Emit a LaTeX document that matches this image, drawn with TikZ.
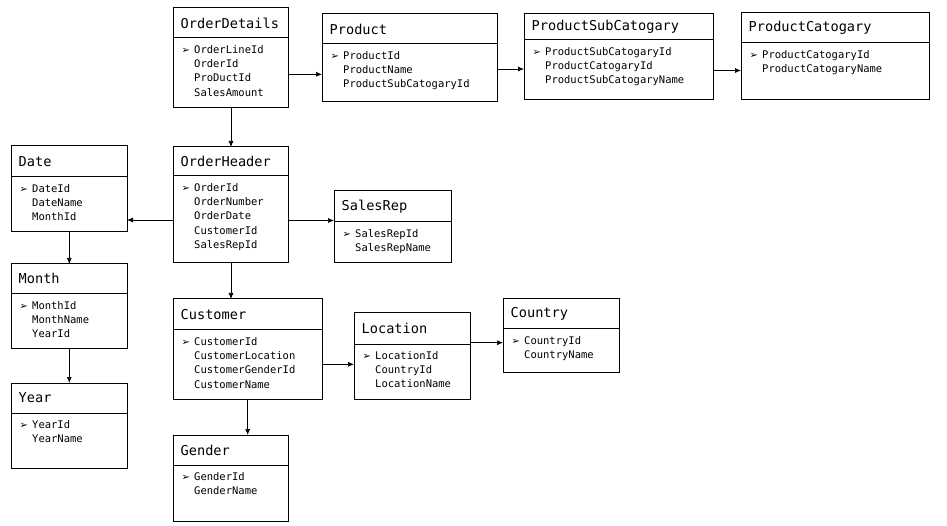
\documentclass[tikz,border=0pt]{standalone}
\usepackage{fontspec}
\setmonofont{DejaVu Sans Mono}
\newfontfamily\symfont{DejaVu Sans}
\usetikzlibrary{arrows.meta}
\tikzset{
  box/.style={draw=black, line width=1pt, inner sep=0pt, outer sep=0pt},
  boxline/.style={draw=black, line width=1pt},
  ttl/.style={inner sep=0pt, font=\ttfamily\fontsize{13.6}{16}\selectfont},
  fld/.style={inner sep=0pt, font=\ttfamily\fontsize{10.5}{13}\selectfont},
  bul/.style={inner sep=0pt, font=\symfont\fontsize{10}{12}\selectfont},
  conn/.style={draw=black, line width=0.7pt, -{Latex[length=6pt,width=5pt]}}
}
\newcommand\ent[8]{%
  \node[box, minimum width={#4-#2}, minimum height={#5-#3}, anchor=north west] (#1) at (#2,#3) {};
  \draw[boxline] (#2,#6) -- (#4,#6);
  \node[ttl, anchor=west] (#1-t) at ({#2+7.5},{(#3+#6)/2}) {#7};
  \node[bul, anchor=base west] (#1-b) at ({#2+8.5},{#6+15.5}) {➢};
  \foreach \f [count=\i from 0] in {#8} {
    \node[fld, anchor=base west] (#1-f\i) at ({#2+21},{#6+15.5+14.2*\i}) {\f};
  }
}
\begin{document}
\begin{tikzpicture}[x=1pt,y=-1pt]
\useasboundingbox (0,0) rectangle (947,526);
\ent{OD}{173}{8}{288}{108}{38}{OrderDetails}{OrderLineId,OrderId,ProDuctId,SalesAmount}
\ent{P}{322}{14}{497}{102}{44}{Product}{ProductId,ProductName,ProductSubCatogaryId}
\ent{PSC}{524}{14}{713}{100}{40}{ProductSubCatogary}{ProductSubCatogaryId,ProductCatogaryId,ProductSubCatogaryName}
\ent{PC}{741}{13}{929}{100}{43}{ProductCatogary}{ProductCatogaryId,ProductCatogaryName}
\ent{D}{11}{146}{127}{232}{177}{Date}{DateId,DateName,MonthId}
\ent{OH}{173}{147}{288}{263}{176}{OrderHeader}{OrderId,OrderNumber,OrderDate,CustomerId,SalesRepId}
\ent{SR}{334}{191}{451}{263}{222}{SalesRep}{SalesRepId,SalesRepName}
\ent{M}{11}{264}{127}{348}{293.5}{Month}{MonthId,MonthName,YearId}
\ent{Y}{11}{383}{127}{468}{413}{Year}{YearId,YearName}
\ent{C}{173}{299}{322}{399}{330}{Customer}{CustomerId,CustomerLocation,CustomerGenderId,CustomerName}
\ent{L}{354}{313}{470}{399}{344}{Location}{LocationId,CountryId,LocationName}
\ent{CO}{503}{299}{619}{372}{329}{Country}{CountryId,CountryName}
\ent{G}{173}{435}{288}{521}{465}{Gender}{GenderId,GenderName}
% connectors
\draw[conn] (OD.east |- 0,74.3) -- (P.west |- 0,74.3);
\draw[conn] (P.east |- 0,69) -- (PSC.west |- 0,69);
\draw[conn] (PSC.east |- 0,70.5) -- (PC.west |- 0,70.5);
\draw[conn] (OD.south -| 231,0) -- (OH.north -| 231,0);
\draw[conn] (OH.west |- 0,220) -- (D.east |- 0,220);
\draw[conn] (OH.east |- 0,220.5) -- (SR.west |- 0,220.5);
\draw[conn] (D.south -| 69.3,0) -- (M.north -| 69.3,0);
\draw[conn] (M.south -| 69.3,0) -- (Y.north -| 69.3,0);
\draw[conn] (OH.south -| 231,0) -- (C.north -| 231,0);
\draw[conn] (C.east |- 0,364.3) -- (L.west |- 0,364.3);
\draw[conn] (L.east |- 0,342.7) -- (CO.west |- 0,342.7);
\draw[conn] (C.south -| 247.7,0) -- (G.north -| 247.7,0);
\end{tikzpicture}
\end{document}
